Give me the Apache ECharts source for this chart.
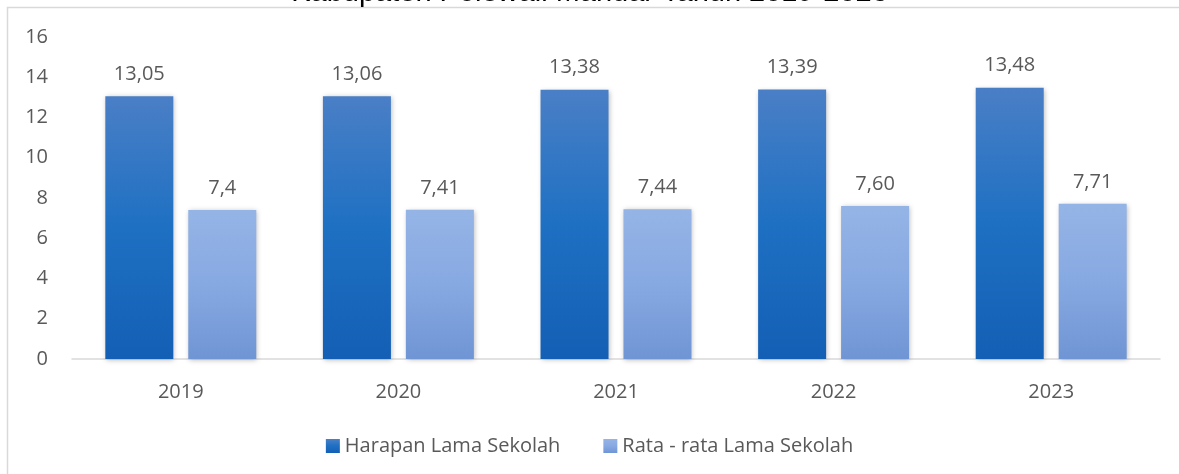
<!DOCTYPE html>
<html>
<head>
<meta charset="utf-8">
<script src="https://cdn.jsdelivr.net/npm/echarts@6/dist/echarts.min.js"></script>
<style>
  html, body { margin: 0; padding: 0; background: #fff; }
  #chart { width: 1179px; height: 474px; }
</style>
</head>
<body>
<div id="chart"></div>
<script>
var years = ['2019', '2020', '2021', '2022', '2023'];
var harapan = [13.05, 13.06, 13.38, 13.39, 13.48];
var harapanLabels = ['13,05', '13,06', '13,38', '13,39', '13,48'];
var rataRata = [7.4, 7.41, 7.44, 7.60, 7.71];
var rataLabels = ['7,4', '7,41', '7,44', '7,60', '7,71'];
var yTicks = [0, 2, 4, 6, 8, 10, 12, 14, 16];

var font = '"Open Sans", "Noto Sans", sans-serif';
var grey = '#595959';

var chart = echarts.init(document.getElementById('chart'));

var options = {
  animation: false,
  title: {
    text: 'Kabupaten Polewali Mandar Tahun 2019-2023',
    left: 'center',
    top: -27,
    textStyle: { fontFamily: '"Liberation Sans", Arial, sans-serif', fontSize: 29, fontWeight: 'normal', color: '#000' }
  },
  graphic: [{
    type: 'rect',
    shape: { x: 7.5, y: 7.5, width: 1200, height: 500 },
    style: { fill: 'none', stroke: '#d9d9d9', lineWidth: 1.5 },
    silent: true
  }],
  grid: { left: 72, right: 19, top: 37, bottom: 115 },
  legend: {
    bottom: 13,
    left: 'center',
    itemWidth: 14,
    itemHeight: 14,
    itemGap: 43,
    icon: 'rect',
    textStyle: { fontFamily: font, fontSize: 20, color: grey },
    data: ['Harapan Lama Sekolah', 'Rata - rata Lama Sekolah']
  },
  xAxis: {
    type: 'category',
    data: years,
    axisLine: { lineStyle: { color: '#d9d9d9', width: 1.5 } },
    axisTick: { show: false },
    axisLabel: { fontFamily: font, fontSize: 20, color: grey, margin: 23 }
  },
  yAxis: {
    type: 'value',
    min: 0,
    max: 16,
    interval: 2,
    axisLine: { show: false },
    axisTick: { show: false },
    splitLine: { show: false },
    axisLabel: {
      fontFamily: font, fontSize: 20, color: grey, margin: 24,
      formatter: function (v) { return yTicks.indexOf(v) > -1 ? String(v) : ''; }
    }
  },
  series: [
    {
      name: 'Harapan Lama Sekolah',
      type: 'bar',
      data: harapan,
      barWidth: 68,
      barGap: '22%',
      itemStyle: {
        color: new echarts.graphic.LinearGradient(0, 0, 0, 1, [
          { offset: 0, color: '#4a7fc6' },
          { offset: 0.5, color: '#1e70c3' },
          { offset: 1, color: '#135fb5' }
        ]),
        shadowBlur: 5, shadowColor: 'rgba(0,0,0,0.28)', shadowOffsetX: 1, shadowOffsetY: 1
      },
      label: {
        show: true, position: 'top', distance: 12,
        fontFamily: font, fontSize: 20, color: grey,
        formatter: function (p) { return harapanLabels[p.dataIndex]; }
      }
    },
    {
      name: 'Rata - rata Lama Sekolah',
      type: 'bar',
      data: rataRata,
      barWidth: 68,
      itemStyle: {
        color: new echarts.graphic.LinearGradient(0, 0, 0, 1, [
          { offset: 0, color: '#95b4e6' },
          { offset: 0.5, color: '#87a9e2' },
          { offset: 1, color: '#7095d4' }
        ]),
        shadowBlur: 5, shadowColor: 'rgba(0,0,0,0.28)', shadowOffsetX: 1, shadowOffsetY: 1
      },
      label: {
        show: true, position: 'top', distance: 12,
        fontFamily: font, fontSize: 20, color: grey,
        formatter: function (p) { return rataLabels[p.dataIndex]; }
      }
    }
  ]
};

chart.setOption(options);
</script>
</body>
</html>
